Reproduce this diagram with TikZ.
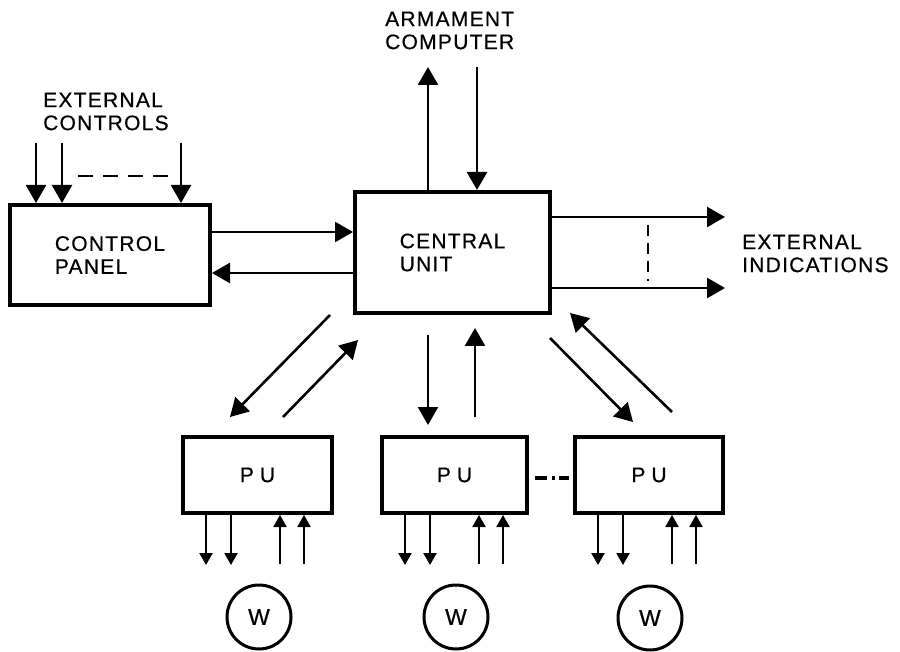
\documentclass[tikz,border=0pt]{standalone}
\usepackage{fontspec}
\setmainfont{Liberation Sans}[LetterSpace=6, FakeBold=0.6]
\usetikzlibrary{arrows.meta}
\tikzset{
  label text/.style={font=\fontsize{21}{23}\selectfont, align=left, inner sep=0pt},
  blockbox/.style={draw, line width=4pt, inner sep=0pt, label text},
  wheel/.style={draw, circle, line width=3pt, minimum size=64pt, inner sep=0pt,
    font=\fontsize{23}{25}\selectfont},
  conn/.style={line width=2.6pt, -{Triangle[width=20pt,length=18pt]}},
  small/.style={line width=2.2pt, -{Triangle[width=13pt,length=12pt]}},
  etc/.style={line width=2.8pt, dash pattern=on 15pt off 10pt},
}
\begin{document}
\begin{tikzpicture}[x=1pt, y=-1pt]
  \useasboundingbox (0,0) rectangle (900,652);

  % main blocks
  \node[blockbox, minimum width=200pt, minimum height=100pt] (cp) at (110,255)
    {CONTROL\\PANEL};
  \node[blockbox, minimum width=195pt, minimum height=121pt] (cu) at (452.5,252.5)
    {CENTRAL\\UNIT};

  % processing units
  \node[blockbox, minimum width=149pt, minimum height=76pt] (pu1) at (257.5,475) {P\kern6pt U};
  \node[blockbox, minimum width=145pt, minimum height=76pt] (pu2) at (454.5,475) {P\kern6pt U};
  \node[blockbox, minimum width=148pt, minimum height=76pt] (pu3) at (649,475) {P\kern6pt U};

  % wheels
  \node[wheel] (w1) at (259,617) {W};
  \node[wheel] (w2) at (456,617) {W};
  \node[wheel] (w3) at (650,618) {W};

  % captions
  \node[label text, anchor=west] (ectext) at (43,111.5) {EXTERNAL\\CONTROLS};
  \node[label text, anchor=west] (actext) at (385,30.5) {ARMAMENT\\COMPUTER};
  \node[label text, anchor=west] (eitext) at (742,253.5) {EXTERNAL\\INDICATIONS};

  % external controls into the control panel
  \coordinate (ec1) at (36,143);
  \coordinate (ec2) at (62,143);
  \coordinate (ec3) at (181,143);
  \foreach \c in {ec1,ec2,ec3} \draw[conn] (\c) -- (\c |- cp.north);
  \coordinate (dc1) at (78,176);
  \coordinate (dc2) at (175,176);
  \draw[etc] (dc1) -- (dc2);

  % control panel <-> central unit
  \draw[conn] ([yshift=23pt]cp.east) -- ([yshift=23pt]cp.east -| cu.west);
  \draw[conn] ([yshift=-18pt]cp.east -| cu.west) -- ([yshift=-18pt]cp.east);

  % armament computer
  \coordinate (ac1) at (428,67);
  \coordinate (ac2) at (477,67);
  \draw[conn] (ac1 |- cu.north) -- (ac1);
  \draw[conn] (ac2) -- (ac2 |- cu.north);

  % external indications
  \coordinate (ei1) at (725,217);
  \coordinate (ei2) at (725,288);
  \draw[conn] (ei1 -| cu.east) -- (ei1);
  \draw[conn] (ei2 -| cu.east) -- (ei2);
  \coordinate (ed1) at (648,225);
  \coordinate (ed2) at (648,281);
  \draw[line width=2.8pt, dash pattern=on 11pt off 7pt] (ed1) -- (ed2);

  % central unit <-> processing units
  \coordinate (l1a) at (330,315);  \coordinate (l1b) at (230,417);
  \coordinate (l2a) at (283,417);  \coordinate (l2b) at (358,340);
  \draw[conn] (l1a) -- (l1b);
  \draw[conn] (l2a) -- (l2b);
  \coordinate (m1a) at (428,335);  \coordinate (m1b) at (428,425);
  \coordinate (m2a) at (475,417);  \coordinate (m2b) at (475,328);
  \draw[conn] (m1a) -- (m1b);
  \draw[conn] (m2a) -- (m2b);
  \coordinate (r1a) at (550,338);  \coordinate (r1b) at (633,422);
  \coordinate (r2a) at (672,412);  \coordinate (r2b) at (570,313);
  \draw[conn] (r1a) -- (r1b);
  \draw[conn] (r2a) -- (r2b);

  % chain of further units
  \draw[line width=3.5pt, dash pattern=on 12pt off 4.5pt on 3pt off 4.5pt on 13pt off 20pt,
        shorten <=6pt, shorten >=4pt]
    ([yshift=-3pt]pu2.east) -- ([yshift=-3pt]pu2.east -| pu3.west);

  % wheel signals
  \foreach \p in {pu1,pu2,pu3} {
    \draw[small] ([xshift=25pt]\p.south west) -- ++(0,50);
    \draw[small] ([xshift=50pt]\p.south west) -- ++(0,50);
    \draw[small] ([xshift=99pt,yshift=-49pt]\p.south west) -- ([xshift=99pt]\p.south west);
    \draw[small] ([xshift=123pt,yshift=-49pt]\p.south west) -- ([xshift=123pt]\p.south west);
  }
\end{tikzpicture}
\end{document}
